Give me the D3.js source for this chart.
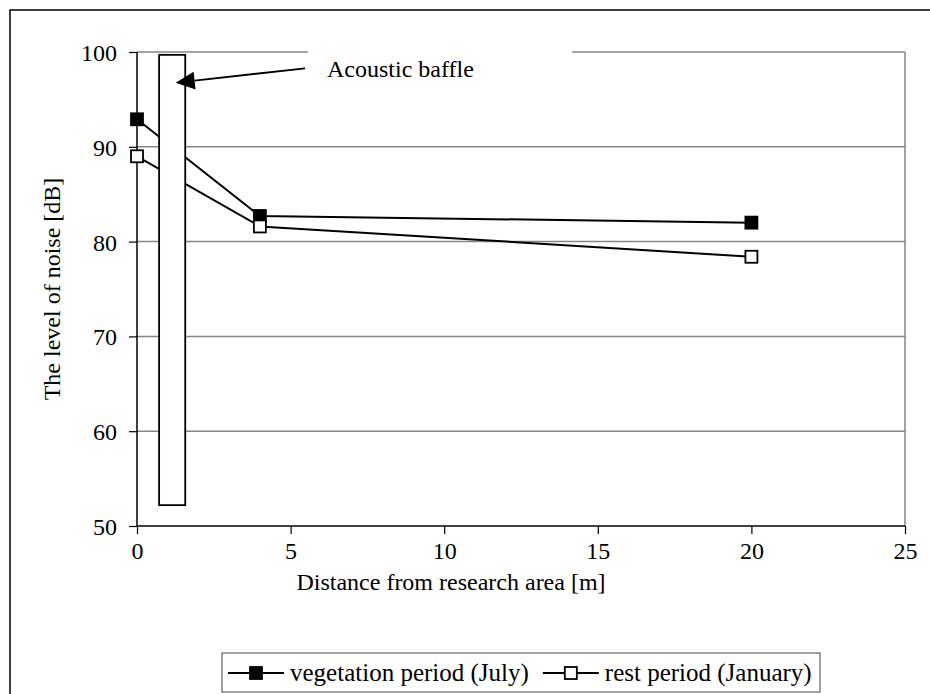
<!DOCTYPE html>
<html><head><meta charset="utf-8">
<script src="https://cdn.jsdelivr.net/npm/d3@7"></script>
<style>body{margin:0;background:#fff}svg text{font-family:"Liberation Serif","Times New Roman",serif;fill:#000}</style>
</head><body>
<svg id="c" width="930" height="694"></svg>
<script>
// ---- data ----
const distances = [0, 4, 20];
const vegetation = [92.9, 82.7, 82.0];
const rest = [89.0, 81.6, 78.4];
const seriesNames = ["vegetation period (July)", "rest period (January)"];
const xTicks = [0, 5, 10, 15, 20, 25];
const yTicks = [50, 60, 70, 80, 90, 100];
const baffleX = [0.72, 1.57];
const baffleY = [52.2, 99.7];
const annotationText = "Acoustic baffle";
const arrowFrom = [5.47, 98.28];
const arrowTo = [1.26, 96.76];
const xTitle = "Distance from research area [m]";
const yTitle = "The level of noise [dB]";

// ---- layout ----
const svg = d3.select("#c");
const FS = 24;
const x = d3.scaleLinear().domain([0, 25]).range([137, 905]);
const y = d3.scaleLinear().domain([50, 100]).range([526, 52]);

// outer border
svg.append("rect").attr("x", 10).attr("y", 10).attr("width", 940).attr("height", 720)
  .attr("fill", "none").attr("stroke", "#000").attr("stroke-width", 1.5);

// gridlines
svg.append("g").selectAll("line").data(yTicks.filter(d => d > 50)).join("line")
  .attr("x1", x(0)).attr("x2", x(25)).attr("y1", d => y(d)).attr("y2", d => y(d))
  .attr("stroke", "#858585").attr("stroke-width", 1.5);
// right plot border
svg.append("line").attr("x1", x(25)).attr("x2", x(25)).attr("y1", y(100)).attr("y2", y(50))
  .attr("stroke", "#858585").attr("stroke-width", 1.5);

// axes
const xAxis = svg.append("g").attr("transform", `translate(0,${y(50)})`)
  .call(d3.axisBottom(x).tickValues(xTicks).tickSize(8).tickPadding(8).tickFormat(d3.format("d")));
const yAxis = svg.append("g").attr("transform", `translate(${x(0)},0)`)
  .call(d3.axisLeft(y).tickValues(yTicks).tickSize(8).tickPadding(12).tickFormat(d3.format("d")));
[xAxis, yAxis].forEach(a => {
  a.attr("font-family", null).attr("font-size", null);
  a.select(".domain").attr("stroke", "#000").attr("stroke-width", 1.5);
  a.selectAll(".tick line").attr("stroke", "#000").attr("stroke-width", 1.2);
  a.selectAll("text").attr("font-size", FS);
});
xAxis.select(".domain").attr("d", `M${x(0)},0H${x(25)}`);
yAxis.select(".domain").attr("d", `M0,${y(50)}V${y(100)}`);
yAxis.selectAll("text").attr("dy", "0.35em");

// lines
const line = d3.line().x((d, i) => x(distances[i])).y(d => y(d));
[vegetation, rest].forEach(s => {
  svg.append("path").attr("d", line(s)).attr("fill", "none").attr("stroke", "#000").attr("stroke-width", 2);
});

// baffle
svg.append("rect").attr("x", x(baffleX[0])).attr("y", y(baffleY[1]))
  .attr("width", x(baffleX[1]) - x(baffleX[0])).attr("height", y(baffleY[0]) - y(baffleY[1]))
  .attr("fill", "#fff").attr("stroke", "#000").attr("stroke-width", 1.8);

// markers
const MS = 12;
[[vegetation, "#000"], [rest, "#fff"]].forEach(([s, fill]) => {
  svg.append("g").selectAll("rect").data(s).join("rect")
    .attr("x", (d, i) => x(distances[i]) - MS / 2).attr("y", d => y(d) - MS / 2)
    .attr("width", MS).attr("height", MS).attr("fill", fill).attr("stroke", "#000").attr("stroke-width", 1.8);
});

// annotation
const ax0 = x(arrowFrom[0]), ay0 = y(arrowFrom[1]), ax1 = x(arrowTo[0]), ay1 = y(arrowTo[1]);
svg.append("rect").attr("x", ax0 + 3).attr("y", y(100) - 8).attr("width", 264).attr("height", 30).attr("fill", "#fff");
svg.append("text").attr("x", ax0 + 22).attr("y", y(97.4)).attr("font-size", FS).text(annotationText);
const ang = Math.atan2(ay1 - ay0, ax1 - ax0);
const hl = 19, hw = 9;
const bx = ax1 - hl * Math.cos(ang), by = ay1 - hl * Math.sin(ang);
svg.append("line").attr("x1", ax0).attr("y1", ay0).attr("x2", bx).attr("y2", by).attr("stroke", "#000").attr("stroke-width", 1.8);
svg.append("path").attr("d", `M${ax1},${ay1}L${bx - hw * Math.sin(ang)},${by + hw * Math.cos(ang)}L${bx + hw * Math.sin(ang)},${by - hw * Math.cos(ang)}Z`).attr("fill", "#000");

// titles
svg.append("text").attr("x", 451).attr("y", 590).attr("text-anchor", "middle").attr("font-size", FS).text(xTitle);
svg.append("text").attr("transform", `translate(60,${(y(50) + y(100)) / 2}) rotate(-90)`).attr("text-anchor", "middle").attr("font-size", FS).text(yTitle);

// legend
const LFS = 25;
const lg = svg.append("g");
lg.append("rect").attr("x", 222).attr("y", 653).attr("width", 598).attr("height", 39).attr("fill", "#fff").attr("stroke", "#444").attr("stroke-width", 1);
const items = [{name: seriesNames[0], fill: "#000"}, {name: seriesNames[1], fill: "#fff"}];
let cx = 228;
items.forEach((it, k) => {
  const g = lg.append("g").attr("transform", `translate(${cx},673)`);
  g.append("line").attr("x1", 0).attr("x2", 56).attr("stroke", "#000").attr("stroke-width", 2);
  g.append("rect").attr("x", 28 - 6).attr("y", -6).attr("width", 12).attr("height", 12).attr("fill", it.fill).attr("stroke", "#000").attr("stroke-width", 1.8);
  const t = g.append("text").attr("x", 62).attr("y", 8).attr("font-size", LFS).text(it.name);
  cx += 62 + t.node().getComputedTextLength() + 14;
});
</script>
</body></html>
